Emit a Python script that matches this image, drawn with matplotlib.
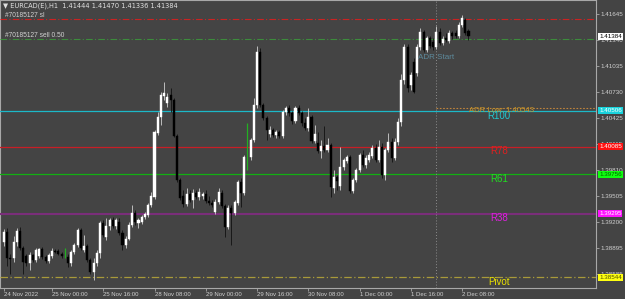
import matplotlib

matplotlib.use("Agg")
import matplotlib.pyplot as plt

plt.rcParams["font.family"] = ["Liberation Sans Narrow", "Liberation Sans", "DejaVu Sans"]

symbol = "EURCAD(E),H1"

# hourly candles (24 Nov 09:00 .. 2 Dec 10:00)
opens = [
    1.3896, 1.3908, 1.3877, 1.3877, 1.3896, 1.3909, 1.3889, 1.3880, 1.3871, 1.3881,
    1.3875, 1.3880, 1.3888, 1.3879, 1.3874, 1.3880, 1.3886, 1.3886, 1.3882, 1.3880,
    1.3879, 1.3871, 1.3884, 1.3893, 1.3910, 1.3887, 1.3891, 1.3875, 1.3861, 1.3871,
    1.3883, 1.3919, 1.3902, 1.3915, 1.3922, 1.3915, 1.3920, 1.3907, 1.3893, 1.3900,
    1.3916, 1.3930, 1.3919, 1.3920, 1.3926, 1.3928, 1.3940, 1.3949, 1.4024, 1.4043,
    1.4068, 1.4060, 1.4069, 1.4063, 1.4021, 1.3969, 1.3950, 1.3941, 1.3953, 1.3946,
    1.3954, 1.3949, 1.3950, 1.3953, 1.3944, 1.3942, 1.3932, 1.3943, 1.3954, 1.3939,
    1.3914, 1.3936, 1.3930, 1.3942, 1.3967, 1.3954, 1.3996, 1.3996, 1.4016, 1.4057,
    1.4120, 1.4057, 1.4042, 1.4023, 1.4028, 1.4022, 1.4026, 1.4021, 1.4049, 1.4054,
    1.4048, 1.4039, 1.4054, 1.4048, 1.4036, 1.4030, 1.4043, 1.4015, 1.4013, 1.4003,
    1.4009, 1.4005, 1.4010, 1.3960, 1.3973, 1.3962, 1.3984, 1.3992, 1.3996, 1.3956,
    1.3969, 1.3981, 1.3999, 1.3987, 1.3993, 1.3997, 1.4007, 1.3993, 1.4008, 1.3975,
    1.4005, 1.4014, 1.3995, 1.4014, 1.4037, 1.4087, 1.4126, 1.4081, 1.4108, 1.4095,
    1.4126, 1.4143, 1.4122, 1.4136, 1.4132, 1.4126, 1.4143, 1.4130, 1.4136, 1.4133,
    1.4142, 1.4142, 1.4139, 1.4152, 1.4158, 1.41444,
]
highs = [
    1.3911, 1.3913, 1.3882, 1.3903, 1.3913, 1.3914, 1.3891, 1.3882, 1.3884, 1.3882,
    1.3889, 1.3889, 1.3890, 1.3881, 1.3883, 1.3889, 1.3888, 1.3888, 1.3884, 1.3889,
    1.3882, 1.3887, 1.3895, 1.3913, 1.3913, 1.3904, 1.3894, 1.3877, 1.3877, 1.3887,
    1.3921, 1.3922, 1.3924, 1.3924, 1.3926, 1.3924, 1.3924, 1.3910, 1.3903, 1.3920,
    1.3940, 1.3934, 1.3924, 1.3928, 1.3932, 1.3942, 1.3955, 1.4028, 1.4049, 1.4073,
    1.4085, 1.4072, 1.4077, 1.4066, 1.4023, 1.3972, 1.3957, 1.3960, 1.3957, 1.3959,
    1.3957, 1.3960, 1.3955, 1.3957, 1.3950, 1.3946, 1.3947, 1.3960, 1.3957, 1.3941,
    1.3940, 1.3940, 1.3946, 1.3969, 1.3972, 1.3999, 1.4036, 1.4019, 1.4066, 1.4127,
    1.4125, 1.4060, 1.4044, 1.4033, 1.4030, 1.4028, 1.4028, 1.4052, 1.4056, 1.4057,
    1.4050, 1.4056, 1.4057, 1.4050, 1.4042, 1.4054, 1.4046, 1.4034, 1.4026, 1.4016,
    1.4033, 1.4019, 1.4013, 1.3981, 1.3975, 1.4008, 1.3995, 1.3999, 1.3999, 1.3972,
    1.3983, 1.4001, 1.4004, 1.3999, 1.4002, 1.4010, 1.4012, 1.4016, 1.4013, 1.4007,
    1.4025, 1.4019, 1.4019, 1.4042, 1.4094, 1.4129, 1.4129, 1.4096, 1.4113, 1.4129,
    1.4148, 1.4146, 1.4139, 1.4139, 1.4136, 1.4150, 1.4148, 1.4139, 1.4142, 1.4146,
    1.4145, 1.4146, 1.4155, 1.4163, 1.4160, 1.41470,
]
lows = [
    1.3891, 1.3868, 1.3859, 1.3873, 1.3891, 1.3887, 1.3859, 1.3868, 1.3863, 1.3873,
    1.3873, 1.3877, 1.3876, 1.3871, 1.3871, 1.3877, 1.3883, 1.3881, 1.3877, 1.3877,
    1.3867, 1.3868, 1.3882, 1.3890, 1.3887, 1.3884, 1.3873, 1.3859, 1.3851, 1.3868,
    1.3877, 1.3902, 1.3899, 1.3910, 1.3913, 1.3912, 1.3904, 1.3887, 1.3889, 1.3899,
    1.3914, 1.3916, 1.3913, 1.3917, 1.3923, 1.3926, 1.3937, 1.3947, 1.4022, 1.4034,
    1.4063, 1.4055, 1.4049, 1.4020, 1.3967, 1.3946, 1.3937, 1.3939, 1.3943, 1.3936,
    1.3947, 1.3946, 1.3947, 1.3942, 1.3940, 1.3937, 1.3929, 1.3941, 1.3936, 1.3902,
    1.3912, 1.3893, 1.3928, 1.3940, 1.3937, 1.3951, 1.3981, 1.3993, 1.4014, 1.4054,
    1.4055, 1.4040, 1.4016, 1.4020, 1.4020, 1.4019, 1.4019, 1.4019, 1.4046, 1.4044,
    1.4035, 1.4036, 1.4046, 1.4033, 1.4028, 1.4027, 1.4013, 1.4013, 1.4001, 1.3995,
    1.4002, 1.4002, 1.3949, 1.3954, 1.3957, 1.3957, 1.3981, 1.3989, 1.3954, 1.3954,
    1.3967, 1.3979, 1.3984, 1.3983, 1.3990, 1.3995, 1.3990, 1.3990, 1.3972, 1.3969,
    1.4002, 1.3990, 1.3993, 1.4010, 1.4033, 1.4082, 1.4073, 1.4075, 1.4072, 1.4091,
    1.4122, 1.4120, 1.4120, 1.4125, 1.4122, 1.4123, 1.4128, 1.4128, 1.4132, 1.4130,
    1.4135, 1.4136, 1.4136, 1.4149, 1.4140, 1.41336,
]
closes = [
    1.3908, 1.3877, 1.3876, 1.3896, 1.3909, 1.3889, 1.3873, 1.3871, 1.3881, 1.3875,
    1.3887, 1.3888, 1.3879, 1.3874, 1.3881, 1.3886, 1.3884, 1.3882, 1.3880, 1.3880,
    1.3871, 1.3884, 1.3893, 1.3910, 1.3889, 1.3891, 1.3875, 1.3861, 1.3871, 1.3883,
    1.3919, 1.3904, 1.3915, 1.3922, 1.3915, 1.3922, 1.3907, 1.3893, 1.3900, 1.3916,
    1.3930, 1.3920, 1.3922, 1.3926, 1.3929, 1.3940, 1.3950, 1.4026, 1.4043, 1.4069,
    1.4072, 1.4067, 1.4063, 1.4021, 1.3969, 1.3948, 1.3941, 1.3953, 1.3946, 1.3954,
    1.3949, 1.3955, 1.3953, 1.3944, 1.3942, 1.3940, 1.3943, 1.3955, 1.3939, 1.3914,
    1.3936, 1.3930, 1.3943, 1.3967, 1.3954, 1.3996, 1.3996, 1.4016, 1.4057, 1.4120,
    1.4057, 1.4042, 1.4028, 1.4028, 1.4022, 1.4026, 1.4021, 1.4049, 1.4054, 1.4048,
    1.4039, 1.4054, 1.4048, 1.4036, 1.4030, 1.4043, 1.4015, 1.4023, 1.4003, 1.4009,
    1.4005, 1.4010, 1.3961, 1.3973, 1.3968, 1.3984, 1.3993, 1.3996, 1.3956, 1.3969,
    1.3981, 1.3999, 1.3987, 1.3995, 1.3999, 1.4007, 1.3993, 1.4008, 1.3975, 1.4005,
    1.4014, 1.3995, 1.4014, 1.4037, 1.4087, 1.4126, 1.4077, 1.4093, 1.4073, 1.4126,
    1.4143, 1.4122, 1.4136, 1.4127, 1.4126, 1.4143, 1.4130, 1.4135, 1.4134, 1.4142,
    1.4139, 1.4139, 1.4152, 1.4160, 1.4142, 1.41384,
]

time_label_bars = [0, 15, 31, 47, 63, 79, 95, 111, 127, 143]
time_labels = [
    "24 Nov 2022", "25 Nov 00:00", "25 Nov 16:00", "28 Nov 08:00", "29 Nov 00:00",
    "29 Nov 16:00", "30 Nov 08:00", "1 Dec 00:00", "1 Dec 16:00", "2 Dec 08:00",
]
price_ticks = [1.41645, 1.41340, 1.41035, 1.40730, 1.40425, 1.40115,
               1.39810, 1.39505, 1.39200, 1.38895, 1.38585]

level_names = ["R100", "R78", "R61", "R38", "Pivot"]
level_prices = [1.40506, 1.40085, 1.39756, 1.39295, 1.38544]

order_id = "#70185127"
sl_price = 1.41586
sell_price = 1.41351
sell_lots = 0.50

adr_start_bar = 135
adr_low = 1.40543

BG = "#444444"
level_line_colors = ["#1cb8c8", "#c81e26", "#12b012", "#7a2e7a", "#a89a3a"]
level_text_colors = ["#20c8d0", "#e02020", "#20e020", "#e020e0", "#e8e000"]
level_box_colors = ["#19d3dc", "#ff1010", "#10ff10", "#ff10ff", "#ffff10"]
level_box_text = ["#ffffff", "#ffffff", "#006000", "#ffffff", "#505000"]
level_styles = ["-", "-", "-", "-", (0, (6, 2, 1, 2))]
level_widths = [0.9, 0.9, 0.9, 1.5, 0.9]

fig = plt.figure(figsize=(6.25, 2.99), dpi=100, facecolor=BG)
ax = fig.add_axes([0, 11 / 299, 596 / 625, 288 / 299], facecolor=BG)
ax.set_xlim(-1.23, 184.8)
ax.set_ylim(1.38420, 1.41810)

# candles
for i, (o, h, l, c) in enumerate(zip(opens, highs, lows, closes)):
    if o == c:
        ax.vlines(i, l, h, color="#22b022", linewidth=0.9, zorder=4)
        continue
    up = c > o
    body = "#ffffff" if up else "#000000"
    wick = "#d0d0d0" if up else "#111111"
    ax.vlines(i, l, h, color=wick, linewidth=0.6, zorder=4)
    ax.bar(i, abs(c - o), bottom=min(o, c), width=0.64, color=body,
           edgecolor=body, linewidth=0.3, zorder=5)

# order lines
ax.axhline(sl_price, color="#cc2222", linewidth=0.8, linestyle=(0, (6, 2, 1, 2)), zorder=3)
ax.axhline(sell_price, color="#3c8c3c", linewidth=0.8, linestyle=(0, (6, 2, 1, 2)), zorder=3)
ax.text(0.008, sl_price, f"{order_id} sl", transform=ax.get_yaxis_transform(),
        color="#d0d0d0", fontsize=4.8, va="bottom", ha="left")
ax.text(0.008, sell_price, f"{order_id} sell {sell_lots:.2f}", transform=ax.get_yaxis_transform(),
        color="#d0d0d0", fontsize=4.8, va="bottom", ha="left")

# pivot / fib levels
for name, price, lc, tc, st, lw in zip(level_names, level_prices, level_line_colors,
                                       level_text_colors, level_styles, level_widths):
    ax.axhline(price, color=lc, linewidth=lw, linestyle=st, zorder=3)
    ax.annotate(name, xy=(154.6, price), xytext=(0, -3.4), textcoords="offset points",
                ha="center", va="center", color=tc, fontsize=7, zorder=6,
                annotation_clip=False)

# ADR
ax.axvline(adr_start_bar, color="#8c8c8c", linewidth=0.7, linestyle=(0, (1, 2)), zorder=3)
ax.plot([adr_start_bar, 184.8], [adr_low, adr_low], color="#c0843c", linewidth=0.8,
        linestyle=(0, (1.5, 1.5)), zorder=3)
ax.annotate(f"ADR Low: {adr_low:.5f}", xy=(155.2, adr_low), xytext=(0, -2.3),
            textcoords="offset points", ha="center", va="center", color="#c8962a",
            fontsize=5.6, zorder=6)
ax.text(adr_start_bar, 1.41139, "ADR Start", ha="center", va="center",
        color="#5d8a9c", fontsize=5.8, zorder=6)

# header
ax.text(0.005, 0.979,
        f"\u25bc {symbol}  {opens[-1]:.5f} {highs[-1]:.5f} {lows[-1]:.5f} {closes[-1]:.5f}",
        transform=ax.transAxes, color="#e0e0e0", fontsize=4.8, va="center", ha="left",
        family=["Liberation Sans Narrow", "DejaVu Sans"])

# axes styling
for sp in ax.spines.values():
    sp.set_color("#a8a8a8")
    sp.set_linewidth(0.8)
ax.yaxis.tick_right()
ax.set_yticks(price_ticks)
ax.set_yticklabels([f"{p:.5f}" for p in price_ticks])
ax.tick_params(axis="y", direction="out", length=2, width=0.6, color="#a8a8a8",
               labelcolor="#d0d0d0", labelsize=4.5, pad=1.2)
ax.set_xticks(time_label_bars)
ax.set_xticklabels(time_labels)
for lab in ax.get_xticklabels():
    lab.set_horizontalalignment("left")
ax.tick_params(axis="x", direction="out", length=2, width=0.6, color="#a8a8a8",
               labelcolor="#d0d0d0", labelsize=4.3, pad=1)

# price boxes on the scale
box_prices = [closes[-1]] + level_prices
box_fc = ["#ffffff"] + level_box_colors
box_tc = ["#000000"] + level_box_text
for p, fc, tc in zip(box_prices, box_fc, box_tc):
    ax.text(1.005, p, f"{p:.5f}", transform=ax.get_yaxis_transform(), ha="left",
            va="center", fontsize=4.5, color=tc, zorder=10, clip_on=False,
            bbox=dict(boxstyle="square,pad=0.15", fc=fc, ec="none"))

fig.savefig("out.png", dpi=100, facecolor=BG)
